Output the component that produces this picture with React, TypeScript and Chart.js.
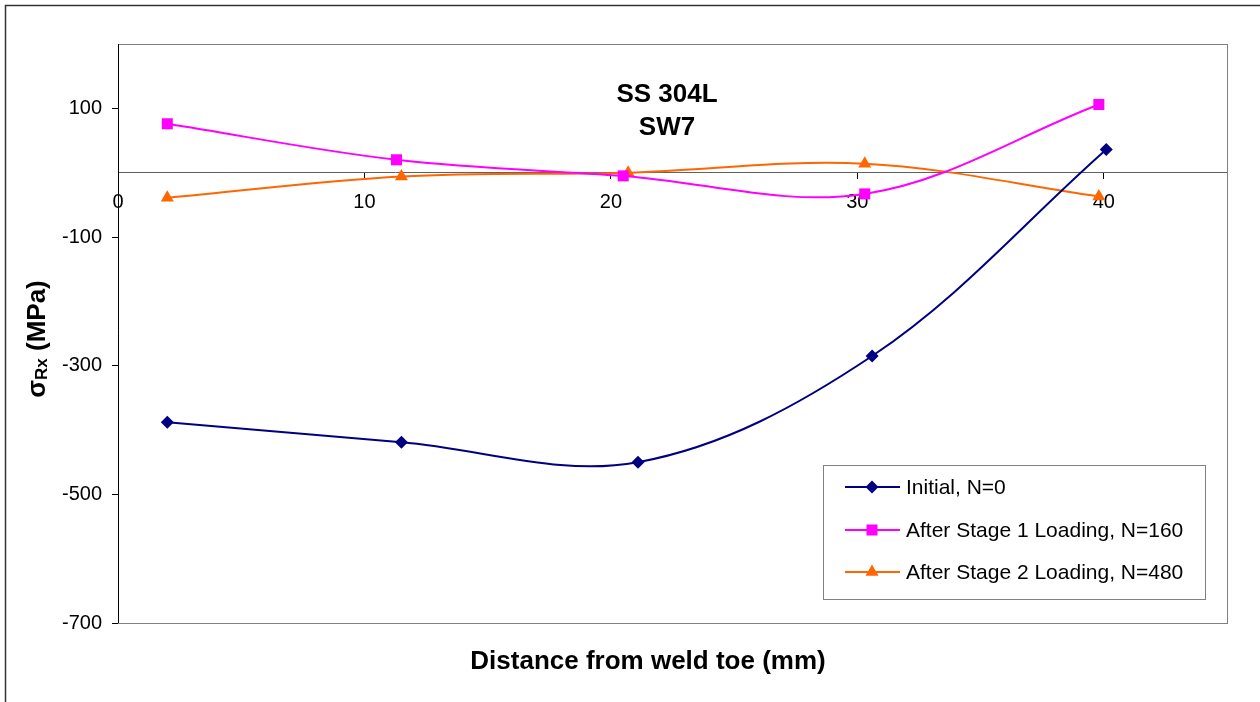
import React, { useEffect, useRef } from 'react';
import { Chart, registerables } from 'chart.js';

Chart.register(...registerables);

// ---- data ----
const distInitial = [2.0, 11.5, 21.1, 30.6, 40.1];
const stressInitial = [-388, -419, -450, -285, 36];
const distStage1 = [2.0, 11.3, 20.5, 30.3, 39.8];
const stressStage1 = [76, 20, -5, -33, 106];
const distStage2 = [2.0, 11.5, 20.7, 30.3, 39.8];
const stressStage2 = [-39, -6, 0, 14, -37];

const seriesNames = [
  'Initial, N=0',
  'After Stage 1 Loading, N=160',
  'After Stage 2 Loading, N=480',
];
const seriesColors = ['#000080', '#FF00FF', '#FF6600'];
const seriesMarkers = ['rectRot', 'rect', 'triangle'];
const xTicks = [0, 10, 20, 30, 40];
const yTicks = [-700, -500, -300, -100, 100];
const titleLines = ['SS 304L', 'SW7'];
const xTitle = 'Distance from weld toe (mm)';
const yTitleParts = ['σ', 'Rx', ' (MPa)'];

const FONT = '"Liberation Sans", Arial, sans-serif';

function pts(xs: number[], ys: number[]) {
  return xs.map((x, i) => ({ x, y: ys[i] }));
}

function drawMarker(ctx: CanvasRenderingContext2D, style: string, x: number, y: number, color: string) {
  ctx.save();
  ctx.fillStyle = color;
  ctx.beginPath();
  if (style === 'rectRot') {
    const r = 6.5;
    ctx.moveTo(x, y - r);
    ctx.lineTo(x + r, y);
    ctx.lineTo(x, y + r);
    ctx.lineTo(x - r, y);
    ctx.closePath();
  } else if (style === 'rect') {
    const h = 5.5;
    ctx.rect(x - h, y - h, 2 * h, 2 * h);
  } else {
    const r = 7.5;
    ctx.moveTo(x, y - r);
    ctx.lineTo(x + r * 0.866, y + r * 0.5);
    ctx.lineTo(x - r * 0.866, y + r * 0.5);
    ctx.closePath();
  }
  ctx.fill();
  ctx.restore();
}

const decorPlugin = {
  id: 'decor',
  beforeDatasetsDraw(chart: any) {
    const { ctx, chartArea: a } = chart;
    ctx.save();
    ctx.strokeStyle = '#808080';
    ctx.lineWidth = 1;
    ctx.strokeRect(Math.round(a.left) + 0.5, Math.round(a.top) + 0.5, Math.round(a.right - a.left), Math.round(a.bottom - a.top));
    ctx.strokeStyle = '#000000';
    ctx.beginPath();
    ctx.moveTo(Math.round(a.left) + 0.5, a.top);
    ctx.lineTo(Math.round(a.left) + 0.5, a.bottom);
    ctx.stroke();
    ctx.restore();
  },
  afterDraw(chart: any) {
    const { ctx } = chart;
    ctx.save();
    // outer border
    ctx.strokeStyle = '#333333';
    ctx.lineWidth = 1.5;
    ctx.strokeRect(5.5, 5.5, 1400, 900);

    // title inside the plot
    ctx.fillStyle = '#000';
    ctx.font = `bold 26px ${FONT}`;
    ctx.textAlign = 'center';
    ctx.textBaseline = 'middle';
    ctx.fillText(titleLines[0], 667, 95);
    ctx.fillText(titleLines[1], 667, 128);

    // x title
    ctx.fillText(xTitle, 648, 662);

    // y title with subscript
    ctx.save();
    ctx.translate(36, 339);
    ctx.rotate(-Math.PI / 2);
    ctx.textAlign = 'left';
    ctx.textBaseline = 'alphabetic';
    const big = `bold 26px ${FONT}`;
    const small = `bold 17px ${FONT}`;
    ctx.font = big;
    const w0 = ctx.measureText(yTitleParts[0]).width;
    const w2 = ctx.measureText(yTitleParts[2]).width;
    ctx.font = small;
    const w1 = ctx.measureText(yTitleParts[1]).width;
    let x = -(w0 + w1 + w2) / 2;
    const base = 9;
    ctx.font = big;
    ctx.fillText(yTitleParts[0], x, base);
    x += w0;
    ctx.font = small;
    ctx.fillText(yTitleParts[1], x, base + 2);
    x += w1;
    ctx.font = big;
    ctx.fillText(yTitleParts[2], x, base);
    ctx.restore();

    // legend
    const lx = 823, ly = 465, lw = 382, lh = 134;
    ctx.fillStyle = '#ffffff';
    ctx.fillRect(lx, ly, lw, lh);
    ctx.strokeStyle = '#808080';
    ctx.lineWidth = 1;
    ctx.strokeRect(lx + 0.5, ly + 0.5, lw, lh);
    const rows = [487, 530, 572];
    ctx.font = `21px ${FONT}`;
    ctx.textAlign = 'left';
    ctx.textBaseline = 'middle';
    seriesNames.forEach((name, i) => {
      const y = rows[i];
      ctx.strokeStyle = seriesColors[i];
      ctx.lineWidth = 2;
      ctx.beginPath();
      ctx.moveTo(845, y);
      ctx.lineTo(900, y);
      ctx.stroke();
      drawMarker(ctx, seriesMarkers[i], 872, y, seriesColors[i]);
      ctx.fillStyle = '#000';
      ctx.fillText(name, 906, y + 1);
    });
    ctx.restore();
  },
};

export default function App() {
  const ref = useRef<HTMLCanvasElement | null>(null);

  useEffect(() => {
    document.body.style.margin = '0';
    const canvas = ref.current;
    if (!canvas) return;
    const series = [
      pts(distInitial, stressInitial),
      pts(distStage1, stressStage1),
      pts(distStage2, stressStage2),
    ];
    const chart = new Chart(canvas, {
      type: 'scatter',
      data: {
        datasets: series.map((data, i) => ({
          label: seriesNames[i],
          data,
          showLine: true,
          borderColor: seriesColors[i],
          backgroundColor: seriesColors[i],
          borderWidth: 2,
          tension: 0.35,
          pointStyle: seriesMarkers[i] as any,
          pointRadius: i === 0 ? 6.5 : i === 1 ? 7.8 : 7.5,
          pointBorderWidth: 0,
          pointHoverRadius: 6,
        })),
      },
      options: {
        responsive: false,
        animation: false,
        layout: { padding: { left: 8, top: 44, right: 33, bottom: 79 } },
        plugins: {
          legend: { display: false },
          tooltip: { enabled: false },
          title: { display: false },
        },
        scales: {
          x: {
            type: 'linear',
            position: { y: 0 } as any,
            min: 0,
            max: 45,
            afterBuildTicks: (s: any) => {
              s.ticks = xTicks.map((v) => ({ value: v }));
            },
            grid: {
              display: true,
              drawOnChartArea: false,
              drawTicks: true,
              tickLength: 6,
              color: '#000000',
            },
            border: { display: true, color: '#606060', width: 1 },
            ticks: {
              color: '#000',
              font: { family: FONT, size: 20 },
              padding: 12,
              maxRotation: 0,
            },
          },
          y: {
            type: 'linear',
            position: 'left',
            min: -700,
            max: 200,
            afterBuildTicks: (s: any) => {
              s.ticks = yTicks.map((v) => ({ value: v }));
            },
            afterFit: (s: any) => {
              s.width = 110;
            },
            grid: {
              display: true,
              drawOnChartArea: false,
              drawTicks: true,
              tickLength: 6,
              color: '#000000',
            },
            border: { display: true, color: '#000000', width: 1 },
            ticks: {
              color: '#000',
              font: { family: FONT, size: 20 },
              padding: 10,
            },
          },
        },
      },
      plugins: [decorPlugin],
    });
    return () => chart.destroy();
  }, []);

  return (
    <div style={{ width: 1260, height: 702 }}>
      <canvas ref={ref} width={1260} height={702} style={{ display: 'block' }} />
    </div>
  );
}
